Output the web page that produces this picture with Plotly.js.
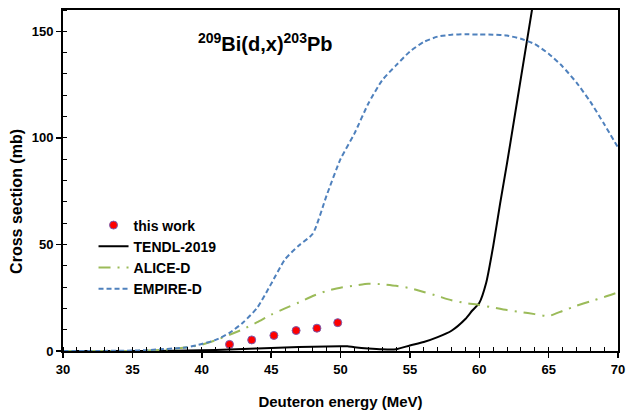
<!DOCTYPE html>
<html><head><meta charset="utf-8">
<script src="https://cdn.plot.ly/plotly-3.0.1.min.js"></script>
<style>body{margin:0;background:#fff}#c{width:627px;height:415px}</style>
</head><body><div id="c"></div>
<script>
const expE = [42.0, 43.6, 45.2, 46.8, 48.3, 49.8];
const expXS = [3.1, 5.2, 7.3, 9.6, 10.7, 13.3];

const tendlE = [30, 35, 38, 40, 42, 44, 46, 48, 50, 50.5, 51, 52, 53, 54, 55, 56, 57, 58, 59, 59.5, 60, 60.5, 61, 61.5, 62, 62.5, 63, 63.5, 64];
const tendlXS = [0, 0, 0.1, 0.3, 0.7, 1.2, 1.7, 2.0, 2.2, 2.2, 1.8, 1.2, 0.8, 0.8, 2.6, 4.2, 6.5, 9.5, 15, 19, 22.5, 32, 49, 69, 88, 108, 128, 148, 168];

const aliceE = [30, 35, 36, 37, 38, 39, 40, 41, 42, 43, 44, 45, 46, 47, 48, 49, 50, 51, 52, 53, 54, 55, 56, 57, 58, 59, 60, 61, 62, 63, 64, 65, 66, 67, 68, 69, 70];
const aliceXS = [0, 0, 0.2, 0.5, 1.0, 1.8, 3.0, 5.0, 7.6, 10.3, 13.5, 17, 20, 22.8, 25.8, 28.2, 29.7, 30.7, 31.6, 31.3, 30.6, 29.5, 27.7, 25.8, 23.8, 22.5, 21.6, 20.4, 19.2, 18.3, 17.3, 16.4, 18.8, 21.2, 23.3, 25.3, 27.5];

const empireE = [30, 33, 35, 36, 37, 38, 39, 40, 41, 42, 43, 44, 45, 46, 47, 48, 49, 50, 51, 52, 53, 54, 55, 56, 57, 58, 59, 60, 61, 62, 63, 64, 65, 66, 67, 68, 69, 70];
const empireXS = [0, 0.05, 0.2, 0.4, 0.8, 1.2, 1.8, 3.3, 5.2, 8.5, 13.5, 20.3, 31.5, 43, 49.5, 55, 73, 90, 102, 116, 127, 134, 140.5, 145, 147.5, 148.4, 148.6, 148.5, 148.4, 148, 146.5, 144, 139.5, 133.5, 126, 117, 106.5, 95.5];

const xTicks = [30, 35, 40, 45, 50, 55, 60, 65, 70];
const yTicks = [0, 50, 100, 150];

const F = 'Liberation Sans, Arial, sans-serif';

const traces = [
  {x: expE, y: expXS, name: 'this work', mode: 'markers', type: 'scatter',
   marker: {color: '#ff0000', size: 8, line: {color: '#7a5cb0', width: 1}}},
  {x: tendlE, y: tendlXS, name: 'TENDL-2019', mode: 'lines', type: 'scatter',
   line: {color: '#000000', width: 2, shape: 'spline', smoothing: 0.6}},
  {x: aliceE, y: aliceXS, name: 'ALICE-D', mode: 'lines', type: 'scatter',
   line: {color: '#9bbb59', width: 2, dash: '12px,7px,2px,7px', shape: 'spline', smoothing: 0.5}},
  {x: empireE, y: empireXS, name: 'EMPIRE-D', mode: 'lines', type: 'scatter',
   line: {color: '#4f81bd', width: 2, dash: '5px,3px', shape: 'spline', smoothing: 0.6}}
];

const axisCommon = {
  showgrid: false, zeroline: false, showline: true, mirror: true,
  linecolor: '#000', linewidth: 2,
  ticks: 'outside', ticklen: 5, tickwidth: 1.5, tickcolor: '#000',
  tickfont: {family: F, size: 13, color: '#000', weight: 'bold'}
};

const layout = {
  width: 627, height: 415,
  margin: {l: 63, r: 9, t: 10, b: 64},
  paper_bgcolor: '#fff', plot_bgcolor: '#fff',
  font: {family: F, color: '#000'},
  xaxis: Object.assign({}, axisCommon, {
    range: [30, 70], tickvals: xTicks, ticktext: xTicks.map(String),
    minor: {dtick: 1, ticks: 'inside', ticklen: 4, tickcolor: '#000', tickwidth: 1},
    title: {text: 'Deuteron energy (MeV)', font: {family: F, size: 15, weight: 'bold'}, standoff: 21}
  }),
  yaxis: Object.assign({}, axisCommon, {
    range: [0, 160], tickvals: yTicks, ticktext: yTicks.map(String),
    minor: {dtick: 10, ticks: 'inside', ticklen: 4, tickcolor: '#000', tickwidth: 1}
  }),
  showlegend: true,
  legend: {x: 0.055, y: 0.415, xanchor: 'left', yanchor: 'top', bgcolor: 'rgba(0,0,0,0)',
    font: {family: F, size: 14, weight: 'bold', color: '#000'}, tracegroupgap: 0},
  annotations: [{
    text: '<sup>209</sup>Bi(d,x)<sup>203</sup>Pb', xref: 'paper', yref: 'paper',
    x: 0.364, y: 0.905, xanchor: 'center', yanchor: 'middle', showarrow: false,
    font: {family: F, size: 20, weight: 'bold', color: '#000'}
  }, {
    text: 'Cross section (mb)', xref: 'paper', yref: 'paper', textangle: -90,
    x: -0.083, y: 0.44, xanchor: 'center', yanchor: 'middle', showarrow: false,
    font: {family: F, size: 16, weight: 'bold', color: '#000'}
  }]
};

Plotly.newPlot('c', traces, layout, {displayModeBar: false, staticPlot: true});
</script></body></html>
